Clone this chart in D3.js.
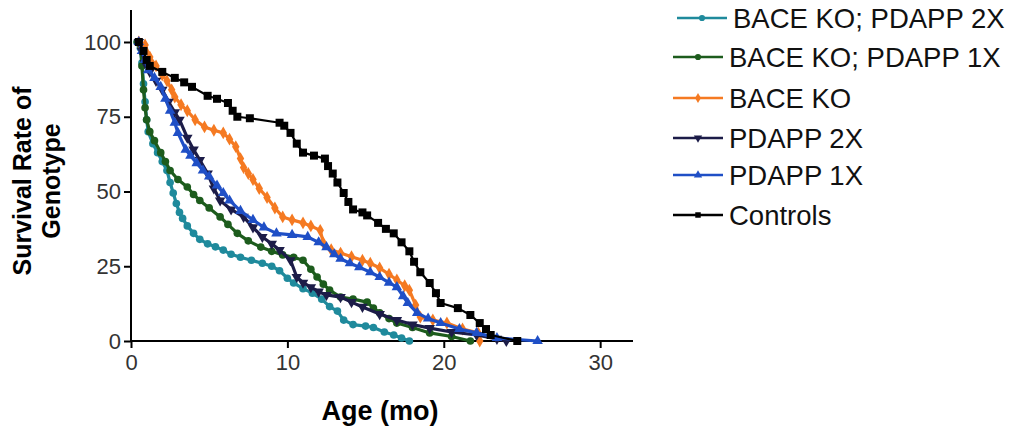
<!DOCTYPE html>
<html><head><meta charset="utf-8">
<script src="https://cdn.jsdelivr.net/npm/d3@7"></script>
<style>body{margin:0;background:#fff}svg{display:block}</style>
</head><body>
<svg id="c" width="1011" height="426"></svg>
<script>
const seriesNames = ["BACE KO; PDAPP 2X","BACE KO; PDAPP 1X","BACE KO","PDAPP 2X","PDAPP 1X","Controls"];
const seriesColors = ["#1f8a9c","#1d5c1d","#f57a22","#1c1c48","#1f4fc6","#000000"];
const seriesSymbols = ["circle","circle","diamond","triangleDown","triangle","square"];
const xTicks = [0,10,20,30];
const yTicks = [0,25,50,75,100];

const baceKoPdapp2x = [[0.4,100],[0.6,98],[0.7,93],[0.8,86],[0.9,80],[1.0,74],[1.1,70],[1.4,66],[1.7,63],[2.0,60],[2.3,57],[2.5,53],[2.7,49.5],[2.9,46],[3.1,43],[3.3,41],[3.6,38.5],[4.0,36],[4.4,34],[4.9,32.5],[5.4,31.5],[5.9,30.4],[6.4,29],[7.0,28],[7.7,27],[8.4,26],[9.0,25],[9.5,23.5],[10.0,21],[10.4,19.4],[11.0,17.5],[11.6,16],[12.2,14],[12.7,11.5],[13.2,10],[13.6,7],[14.2,5.5],[15.0,5],[15.5,4.5],[16.2,3],[16.8,2],[17.3,1],[17.8,0]];
const baceKoPdapp1x = [[0.4,100],[0.6,99],[0.7,92],[0.8,84],[0.9,78],[1.0,74],[1.2,70],[1.5,67],[1.9,63],[2.2,60],[2.5,57],[3.0,54],[3.6,51.5],[4.0,49],[4.4,47],[5.0,44.5],[5.7,41.5],[6.2,39],[6.8,36],[7.5,33.5],[8.3,31.4],[9.0,30],[9.7,28.8],[10.4,28],[11.0,27],[11.5,24],[11.9,21.4],[12.3,19],[12.7,17],[13.4,14.7],[14.2,14],[15.1,13],[15.5,11],[15.9,9.4],[16.5,7.5],[17.0,6],[18.0,4.5],[19.1,2.7],[20.5,1.5],[21.7,0]];
const baceKo = [[0.5,100],[0.9,99],[1.2,95],[1.6,92],[2.0,89],[2.3,87],[2.6,84],[2.8,81.6],[3.2,79],[3.6,77],[4.1,74],[4.7,71.6],[5.3,70.5],[5.9,69.6],[6.3,67.5],[6.7,65],[7.0,61],[7.2,58],[7.5,56],[7.8,54],[8.2,51],[8.7,48],[9.2,44.5],[9.7,41.5],[10.3,40.5],[11.0,39.5],[11.5,38.5],[12.1,37],[12.3,32.8],[12.8,30.5],[13.4,29.4],[14.1,28.2],[14.8,27],[15.3,26],[15.9,24.4],[16.5,22.3],[17.0,20.4],[17.5,18.5],[17.8,17],[18.2,12],[18.5,8],[19.3,7],[20.2,6],[21.2,4],[22.2,2.7],[22.3,0]];
const pdapp2x = [[0.5,100],[0.7,97],[0.9,93],[1.2,90],[1.6,87],[2.0,84],[2.4,80],[2.8,76.5],[3.1,74],[3.6,68],[4.0,64],[4.4,60.5],[4.9,56],[5.3,51],[5.7,47],[6.4,44],[7.2,41.5],[7.8,38],[8.4,34.8],[9.0,32.5],[9.5,30.4],[10.2,27],[10.6,21.4],[11.0,19.5],[11.5,18],[12.0,16.5],[12.5,15.4],[13.4,14.7],[14.1,13],[14.8,11.4],[15.9,9],[17.0,7],[18.0,5.5],[19.1,4.3],[20.5,3],[22.1,2],[23.4,0.7],[24.0,0]];
const pdapp1x = [[0.5,100],[0.7,97],[0.9,94],[1.1,90.6],[1.5,88],[1.9,85],[2.2,81],[2.5,77],[2.8,73],[3.0,69.6],[3.5,64],[3.8,62],[4.2,59.5],[4.6,57],[5.0,55],[5.5,52],[5.9,49.5],[6.3,47],[7.0,43.5],[7.8,40.5],[8.5,38],[9.3,36],[10.3,35.5],[11.3,34.8],[12.0,33],[12.5,31.4],[13.0,29],[13.4,27.5],[14.0,26],[14.6,24.7],[15.3,23],[15.9,21.4],[16.5,19.5],[17.0,18],[17.4,15],[17.7,12.7],[18.3,9.4],[19.0,7.5],[19.8,6],[21.0,4],[22.1,2.7],[23.4,1],[26.0,0]];
const controls = [[0.5,100],[0.8,97],[1.0,94],[1.2,92],[2.0,90],[2.8,88],[3.4,86.5],[3.9,85],[4.9,82],[5.5,81],[6.2,79.6],[6.5,77],[6.8,75],[7.6,74.5],[9.5,73],[9.8,72],[10.2,69.6],[10.6,66],[11.0,63],[11.7,62],[12.4,61],[12.6,58.5],[12.9,56],[13.2,53],[13.6,49.5],[13.9,46.5],[14.2,44],[14.8,43],[15.1,42],[15.8,39.5],[16.3,37.5],[16.8,36],[17.3,33],[17.8,30],[18.1,26.5],[18.5,23],[19.1,19.4],[19.5,16],[19.8,12.7],[20.9,11],[21.7,8.7],[22.3,6],[22.7,4],[23.0,2],[24.7,0]];

const seriesData = [baceKoPdapp2x, baceKoPdapp1x, baceKo, pdapp2x, pdapp1x, controls];

const svg = d3.select("#c");
const x = d3.scaleLinear().domain([0, 32.1]).range([131, 633]);
const y = d3.scaleLinear().domain([0, 110.7]).range([341, 10]);

const symMap = {circle: d3.symbolCircle, diamond: d3.symbolDiamond, triangle: d3.symbolTriangle, triangleDown: d3.symbolTriangle, square: d3.symbolSquare};
const symSize = {circle: 46, diamond: 48, triangle: 48, triangleDown: 48, square: 64};

// axes
const gx = svg.append("g").attr("transform", `translate(0,${y(0)})`)
  .call(d3.axisBottom(x).tickValues(xTicks).tickSize(7).tickPadding(6));
const gy = svg.append("g").attr("transform", `translate(${x(0)},0)`)
  .call(d3.axisLeft(y).tickValues(yTicks).tickSize(7).tickPadding(3));
[gx, gy].forEach(g => {
  g.select(".domain").attr("stroke", "#000").attr("stroke-width", 2);
  g.selectAll(".tick line").attr("stroke", "#000").attr("stroke-width", 2);
  g.selectAll(".tick text").attr("fill", "#333").attr("font-family", "Liberation Sans, Arial, sans-serif").attr("font-size", 22);
});
gx.select(".domain").attr("d", `M${x(0)},0H${x(32.1)}`);
gy.select(".domain").attr("d", `M0,${y(0)}V${y(110.7)}`);

// curves
const line = d3.line().x(d => x(d[0])).y(d => y(d[1]));
seriesData.forEach((data, i) => {
  const g = svg.append("g");
  g.append("path").datum(data).attr("d", line).attr("fill", "none")
    .attr("stroke", seriesColors[i]).attr("stroke-width", i === 5 ? 2.2 : 3.2).attr("stroke-linejoin", "round");
  const s = seriesSymbols[i];
  g.selectAll("path.m").data(data).join("path").attr("class", "m")
    .attr("d", d3.symbol().type(symMap[s]).size(symSize[s]))
    .attr("transform", d => `translate(${x(d[0])},${y(d[1])})${s === "triangleDown" ? " rotate(180)" : ""}`)
    .attr("fill", seriesColors[i]);
});

// axis titles
svg.append("text").attr("x", 380).attr("y", 420).attr("text-anchor", "middle")
  .attr("font-family", "Liberation Sans, Arial, sans-serif").attr("font-weight", "bold").attr("font-size", 27)
  .text("Age (mo)");
const yt = svg.append("text").attr("transform", "translate(0,181) rotate(-90)").attr("text-anchor", "middle")
  .attr("font-family", "Liberation Sans, Arial, sans-serif").attr("font-weight", "bold").attr("font-size", 25);
yt.append("tspan").attr("x", 0).attr("y", 31).text("Survival Rate of");
yt.append("tspan").attr("x", 0).attr("y", 60).text("Genotype");

// legend
const legY = [18, 57, 98, 138, 175, 215];
const leg = svg.append("g");
seriesNames.forEach((name, i) => {
  const x0 = i === 0 ? 677 : 673;
  const g = leg.append("g");
  g.append("line").attr("x1", x0).attr("x2", x0 + 50).attr("y1", legY[i]).attr("y2", legY[i])
    .attr("stroke", seriesColors[i]).attr("stroke-width", 2.5);
  const s = seriesSymbols[i];
  g.append("path").attr("d", d3.symbol().type(symMap[s]).size(30))
    .attr("transform", `translate(${x0 + 25},${legY[i]})${s === "triangleDown" ? " rotate(180)" : ""}`)
    .attr("fill", seriesColors[i]);
  g.append("text").attr("x", x0 + 56).attr("y", legY[i]).attr("dy", "0.36em")
    .attr("font-family", "Liberation Sans, Arial, sans-serif").attr("font-size", 27.5).attr("fill", "#111")
    .text(name);
});
</script>
</body></html>
